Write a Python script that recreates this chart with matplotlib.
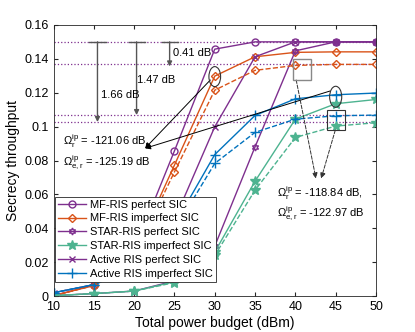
import numpy as np
import matplotlib
matplotlib.use("Agg")
import matplotlib.pyplot as plt
from matplotlib.patches import Ellipse, Rectangle

plt.rcParams['font.family'] = ['Liberation Sans', 'DejaVu Sans']
plt.rcParams['mathtext.fontset'] = 'custom'
plt.rcParams['mathtext.rm'] = 'Liberation Sans'
plt.rcParams['mathtext.it'] = 'Liberation Sans'

power = [10, 15, 20, 25, 30, 35, 40, 45, 50]

# perfect SIC
mf_perfect = [0.0003, 0.0065, 0.027, 0.0857, 0.1457, 0.150, 0.150, 0.150, 0.150]
star_perfect = [0.0003, 0.0015, 0.003, 0.009, 0.0295, 0.0881, 0.1447, 0.150, 0.150]
active_perfect = [0.002, 0.0068, 0.018, 0.045, 0.0999, 0.1412, 0.150, 0.150, 0.150]

# imperfect SIC, Omega_r = -121.06 dB (solid)
mf_imp_1 = [0.0003, 0.0063, 0.025, 0.0773, 0.1298, 0.1412, 0.1438, 0.1441, 0.1441]
star_imp_1 = [0.0003, 0.0015, 0.003, 0.0085, 0.026, 0.0678, 0.1044, 0.1135, 0.1160]
active_imp_1 = [0.002, 0.0068, 0.017, 0.042, 0.0835, 0.1066, 0.1164, 0.1188, 0.1198]

# imperfect SIC, Omega_r = -118.84 dB (dashed)
mf_imp_2 = [0.0003, 0.0062, 0.024, 0.0733, 0.1215, 0.1332, 0.1361, 0.1367, 0.1367]
star_imp_2 = [0.0003, 0.0015, 0.003, 0.008, 0.024, 0.0625, 0.0936, 0.1003, 0.1023]
active_imp_2 = [0.002, 0.0067, 0.016, 0.039, 0.0783, 0.0966, 0.1044, 0.1064, 0.1068]

ref_levels = [0.150, 0.1367, 0.1068, 0.1027]
gaps = ["1.66 dB", "1.47 dB", "0.41 dB"]

purple = '#7E2F8E'
red = '#D95319'
blue = '#0072BD'
green = '#4DB390'
hexagram = (6, 1, 0)

fig = plt.figure(figsize=(4.15, 3.32), dpi=100)
ax = fig.add_axes([0.129, 0.108, 0.777, 0.817])

for lv in ref_levels:
    ax.axhline(lv, color=purple, ls=':', lw=0.9, zorder=1)

kw = dict(lw=1.0, ms=5, mfc='none')
ax.plot(power, mf_perfect, '-o', color=purple, label='MF-RIS perfect SIC', **kw)
ax.plot(power, mf_imp_1, '-D', color=red, label='MF-RIS imperfect SIC', lw=1.0, ms=4.5, mfc='none')
ax.plot(power, star_perfect, '-', marker=hexagram, color=purple, label='STAR-RIS perfect SIC', **kw)
ax.plot(power, star_imp_1, '-*', color=green, label='STAR-RIS imperfect SIC', lw=1.0, ms=7)
ax.plot(power, active_perfect, '-x', color=purple, label='Active RIS perfect SIC', lw=1.0, ms=4.5)
ax.plot(power, active_imp_1, '-+', color=blue, label='Active RIS imperfect SIC', lw=1.0, ms=6.5)

ax.plot(power, mf_imp_2, '--D', color=red, lw=1.0, ms=4.5, mfc='none')
ax.plot(power, star_imp_2, '--*', color=green, lw=1.0, ms=7)
ax.plot(power, active_imp_2, '--+', color=blue, lw=1.0, ms=6.5)

ax.set_xlim(10, 50)
ax.set_ylim(0, 0.16)
ax.set_xticks(np.arange(10, 51, 5))
ax.set_yticks(np.arange(0, 0.161, 0.02))
ax.set_yticklabels(['0', '0.02', '0.04', '0.06', '0.08', '0.1', '0.12', '0.14', '0.16'])
ax.tick_params(direction='in', top=True, right=True, labelsize=9, length=3, color='#262626')
for s in ax.spines.values():
    s.set_color('#262626')
    s.set_linewidth(0.6)
ax.set_xlabel('Total power budget (dBm)', fontsize=10, labelpad=2)
ax.set_ylabel('Secrecy throughput', fontsize=10, labelpad=3)

# gap arrows with T-bars
arrow_x = [15.45, 20.3, 24.4]
arrow_end = [ref_levels[3], ref_levels[2], ref_levels[1] - 0.0012]
for xa, ye in zip(arrow_x, arrow_end):
    ax.plot([xa - 1.0, xa + 1.0], [0.150, 0.150], color='#555555', lw=1.0)
    ax.annotate('', xy=(xa, ye), xytext=(xa, 0.150),
                arrowprops=dict(arrowstyle='-|>', color='#555555', lw=1.0,
                                mutation_scale=7, shrinkA=0, shrinkB=0))
ax.text(15.9, 0.1186, gaps[0], fontsize=8, va='center')
ax.text(20.35, 0.1274, gaps[1], fontsize=8, va='center')
ax.text(24.8, 0.1432, gaps[2], fontsize=8, va='center')

# ellipses and boxes
ax.add_patch(Ellipse((30, 0.1295), 1.45, 0.0118, fill=False, ec='#333333', lw=0.8, zorder=5))
ax.add_patch(Ellipse((45, 0.1176), 1.5, 0.0124, fill=False, ec='#333333', lw=0.8, zorder=5))
ax.add_patch(Rectangle((39.7, 0.1275), 2.2, 0.0121, fill=False, ec='#888888', lw=1.0, zorder=5))
ax.add_patch(Rectangle((43.9, 0.0979), 2.2, 0.0118, fill=False, ec='#333333', lw=0.8, zorder=5))

tip = (21.35, 0.0872)
ax.annotate('', xy=tip, xytext=(29.45, 0.1275),
            arrowprops=dict(arrowstyle='-|>', color='black', lw=0.7, mutation_scale=8, shrinkA=0, shrinkB=0))
ax.annotate('', xy=tip, xytext=(44.3, 0.1210),
            arrowprops=dict(arrowstyle='-|>', color='black', lw=0.7, mutation_scale=8, shrinkA=0, shrinkB=0))
ax.annotate('', xy=(42.55, 0.0694), xytext=(40.1, 0.1275),
            arrowprops=dict(arrowstyle='-|>', color='#333333', lw=0.7, ls='--', mutation_scale=8, shrinkA=0, shrinkB=0))
ax.annotate('', xy=(43.2, 0.0694), xytext=(44.95, 0.0979),
            arrowprops=dict(arrowstyle='-|>', color='#333333', lw=0.7, ls='--', mutation_scale=8, shrinkA=0, shrinkB=0))

ax.text(11.2, 0.0915, r'$\Omega_{\mathrm{r}}^{\mathrm{ip}}$ = -121.06 dB,', fontsize=8, va='center')
ax.text(11.2, 0.0790, r'$\Omega_{\mathrm{e,r}}^{\mathrm{ip}}$ = -125.19 dB', fontsize=8, va='center')
ax.text(37.7, 0.0608, r'$\Omega_{\mathrm{r}}^{\mathrm{ip}}$ = -118.84 dB,', fontsize=8, va='center')
ax.text(37.7, 0.0488, r'$\Omega_{\mathrm{e,r}}^{\mathrm{ip}}$ = -122.97 dB', fontsize=8, va='center')

leg = ax.legend(loc='lower left', bbox_to_anchor=(0.005, 0.053), fontsize=8,
                frameon=True, fancybox=False, framealpha=1, edgecolor='#262626',
                handlelength=2.5, handletextpad=0.4, borderpad=0.25, labelspacing=0.35,
                borderaxespad=0.0)
leg.get_frame().set_linewidth(0.6)
leg.set_zorder(10)

fig.savefig('out.png', dpi=100)
